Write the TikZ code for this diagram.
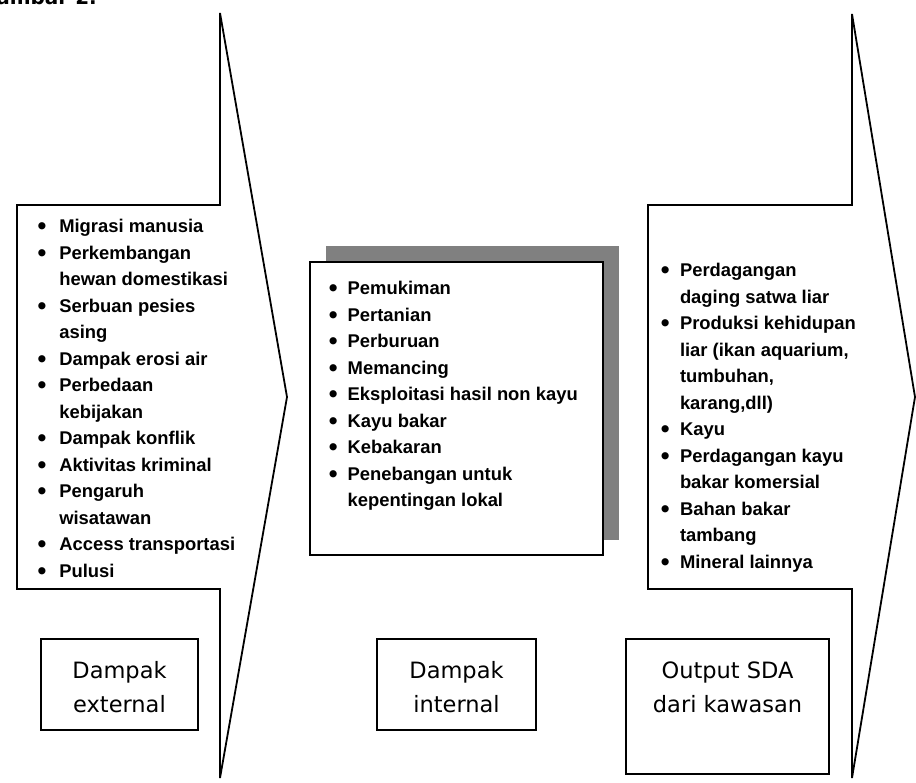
\documentclass[tikz,border=0pt]{standalone}
\usepackage{fontspec}
\setmainfont{Liberation Sans}
\newfontfamily\labfont{DejaVu Sans}
\newlength\bw
\newcommand\bi{\makebox[\bw][l]{\hspace*{-1.2pt}\raisebox{-1.8pt}{\fontsize{25}{25}\selectfont •}}}
\newcommand\ci{\hspace*{\bw}}
\definecolor{shadowgray}{RGB}{128,128,128}
\tikzset{
  outl/.style={line width=1.8pt, line join=miter, fill=white},
  listtxt/.style={anchor=base west, inner sep=0pt, outer sep=0pt,
    font=\bfseries\fontsize{18.4}{26.5}\selectfont},
  labbox/.style={draw, line width=1.8pt, anchor=north west, inner sep=0pt, outer sep=0pt},
  labtxt/.style={anchor=base, inner sep=0pt, outer sep=0pt,
    font=\labfont\fontsize{22.5}{34}\selectfont},
}
\begin{document}
\begin{tikzpicture}[x=1pt,y=-1pt]
\useasboundingbox (0,0) rectangle (916,783);
\clip (0,0) rectangle (916,783);

% title (cut at the top, as in the reference)
\node[anchor=base east, inner sep=0pt, font=\labfont\bfseries\fontsize{20}{24}\selectfont] (title) at (97,5) {Gambar 2.};

% left arrow with list box
\draw[outl] (220,205) -- (220,13) -- (287,397) -- (220,778) -- (220,589) -- (17,589) -- (17,205) -- cycle;
% right arrow with list box
\draw[outl] (852,205) -- (852,14) -- (915,397) -- (852,778) -- (852,589) -- (648,589) -- (648,205) -- cycle;

% middle box with shadow
\node[fill=shadowgray, minimum width=293pt, minimum height=294pt, anchor=north west, inner sep=0pt, outer sep=0pt] (intshadow) at (326,246) {};
\node[labbox, fill=white, minimum width=293pt, minimum height=293pt] (intmain) at (310,262) {};

% lists
\node[listtxt] (extlist) at (38.8,233) {\parbox[t]{260pt}{\raggedright\setlength\bw{20.5pt}%
\bi Migrasi manusia\\
\bi Perkembangan\\
\ci hewan domestikasi\\
\bi Serbuan pesies\\
\ci asing\\
\bi Dampak erosi air\\
\bi Perbedaan\\
\ci kebijakan\\
\bi Dampak konflik\\
\bi Aktivitas kriminal\\
\bi Pengaruh\\
\ci wisatawan\\
\bi Access transportasi\\
\bi Pulusi}};

\node[listtxt] (intlist) at (330,295) {\parbox[t]{260pt}{\raggedright\setlength\bw{17.7pt}%
\bi Pemukiman\\
\bi Pertanian\\
\bi Perburuan\\
\bi Memancing\\
\bi Eksploitasi hasil non kayu\\
\bi Kayu bakar\\
\bi Kebakaran\\
\bi Penebangan untuk\\
\ci kepentingan lokal}};

\node[listtxt] (outlist) at (662,277) {\parbox[t]{250pt}{\raggedright\setlength\bw{18pt}%
\bi Perdagangan\\
\ci daging satwa liar\\
\bi Produksi kehidupan\\
\ci liar (ikan aquarium,\\
\ci tumbuhan,\\
\ci karang,dll)\\
\bi Kayu\\
\bi Perdagangan kayu\\
\ci bakar komersial\\
\bi Bahan bakar\\
\ci tambang\\
\bi Mineral lainnya}};

% label boxes
\node[labbox, minimum width=157pt, minimum height=91pt] (extbox) at (41,639) {};
\node[labbox, minimum width=159pt, minimum height=91pt] (intbox) at (377,639) {};
\node[labbox, minimum width=203pt, minimum height=135pt] (outbox) at (626,639) {};

\node[labtxt] (extT) at ([yshift=-39pt]extbox.north) {\parbox[t]{150pt}{\centering Dampak\\external}};
\node[labtxt] (intT) at ([yshift=-39pt]intbox.north) {\parbox[t]{150pt}{\centering Dampak\\internal}};
\node[labtxt] (outT) at ([yshift=-39pt]outbox.north) {\parbox[t]{195pt}{\centering Output SDA\\dari kawasan}};
\end{tikzpicture}
\end{document}
